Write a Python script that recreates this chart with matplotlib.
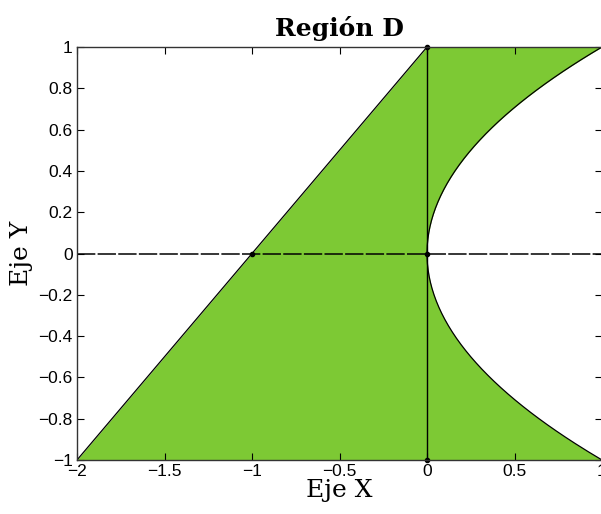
import numpy as np
import matplotlib.pyplot as plt

# region D: y-1 <= x <= y^2, -1 <= y <= 1
y_vals = np.linspace(-1, 1, 201)
x_left = y_vals - 1
x_right = y_vals ** 2

pts_x = [-1, 0, 0, 0]
pts_y = [0, 0, 1, -1]

x_ticks = [-2, -1.5, -1, -0.5, 0, 0.5, 1]
y_ticks = [-1, -0.8, -0.6, -0.4, -0.2, 0, 0.2, 0.4, 0.6, 0.8, 1]

fig = plt.figure(figsize=(6.01, 5.14), dpi=100)
ax = fig.add_axes([77/601, 54/514, 525/601, 413/514])

ax.fill_betweenx(y_vals, x_left, x_right, color='#7dc934', linewidth=0)
ax.plot(x_left, y_vals, color='black', linewidth=0.9)
ax.plot(x_right, y_vals, color='black', linewidth=0.9)
ax.plot([-2, 1], [0, 0], color='black', linewidth=1.1, dashes=(12, 1.5))
ax.plot([0, 0], [-1, 1], color='black', linewidth=1.0)
ax.plot(pts_x, pts_y, 'o', color='black', markersize=3, clip_on=False)

ax.set_xlim(-2, 1)
ax.set_ylim(-1, 1)
ax.set_xticks(x_ticks)
ax.set_xticklabels(['\u22122', '\u22121.5', '\u22121', '\u22120.5', '0', '0.5', '1'])
ax.set_yticks(y_ticks)
ax.set_yticklabels(['\u22121', '\u22120.8', '\u22120.6', '\u22120.4', '\u22120.2', '0',
                    '0.2', '0.4', '0.6', '0.8', '1'])
ax.tick_params(direction='in', length=5, width=0.8, top=True, right=True,
               labelsize=12.5, pad=3)
for lab in ax.get_xticklabels() + ax.get_yticklabels():
    lab.set_family('Liberation Sans')
for s in ax.spines.values():
    s.set_linewidth(1.0)
    s.set_color('#333333')

ax.set_title('Región D', family='DejaVu Serif', fontweight='bold', fontsize=18, pad=8)
ax.set_xlabel('Eje X', family='DejaVu Serif', fontsize=18, labelpad=0)
ax.set_ylabel('Eje Y', family='DejaVu Serif', fontsize=18, labelpad=4)

fig.savefig('out.png', dpi=100)
